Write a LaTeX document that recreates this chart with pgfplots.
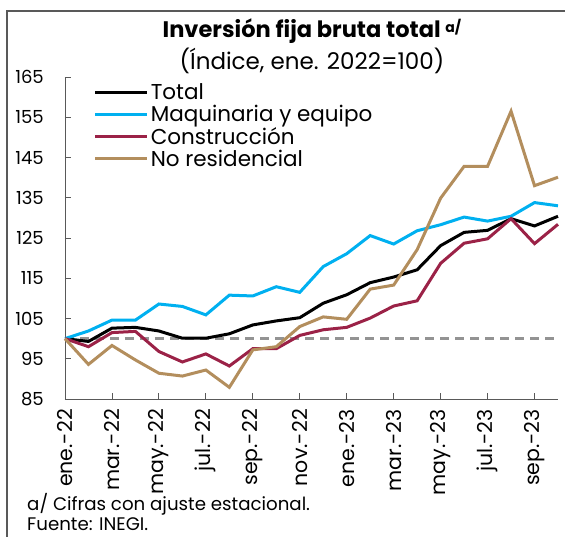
\documentclass[border=0pt]{standalone}
\usepackage{fontspec}
\setmainfont{Poppins}
\usepackage{pgfplots}
\pgfplotsset{compat=1.18}
\definecolor{cTotal}{HTML}{000000}
\definecolor{cMaq}{HTML}{00B0F0}
\definecolor{cCon}{HTML}{9B2247}
\definecolor{cNoR}{HTML}{B38E5D}
\definecolor{cAx}{HTML}{595959}
\begin{document}
\begin{tikzpicture}
\useasboundingbox (-65pt,-137pt) rectangle (500pt,399pt);
\begin{axis}[
  at={(0pt,0pt)}, anchor=origin,
  scale only axis,
  width=493pt, height=322pt,
  xmin=0, xmax=21, ymin=85, ymax=165,
  axis x line*=bottom, axis y line*=left,
  axis line style={cAx, line width=0.9pt},
  tick style={cAx, line width=0.9pt},
  tick align=inside, major tick length=6pt,
  xtick={0,2,...,20},
  xticklabels={ene.-22,mar.-22,may.-22,jul.-22,sep.-22,nov.-22,ene.-23,mar.-23,may.-23,jul.-23,sep.-23},
  xticklabel style={rotate=90, anchor=east, font=\fontsize{20.5}{22}\selectfont, inner sep=0pt, xshift=-10pt},
  ytick={85,95,...,165},
  yticklabel style={font=\fontsize{18}{20}\selectfont, inner sep=0pt, xshift=-21pt},
  /pgf/number format/assume math mode=true,
  legend style={draw=none, fill=none, at={(0.058,0.985)}, anchor=north west,
    inner sep=0pt, font=\fontsize{21.5}{22.5}\selectfont, row sep=0pt,
    /tikz/every even column/.style={column sep=6pt}},
  legend cell align=left,
  legend image code/.code={\draw[#1] (0pt,0pt) -- (52pt,0pt);},
  clip=false,
]
\addplot[forget plot, color=gray!85, dashed, line width=2.6pt, dash pattern=on 9pt off 6pt] coordinates {(0,100) (21,100)};
\addplot[cTotal, line width=3pt] coordinates {
(0,100) (1,99.3) (2,102.6) (3,102.8) (4,101.9) (5,100.1) (6,100.1) (7,101.2) (8,103.4) (9,104.4) (10,105.2)
(11,108.8) (12,110.9) (13,113.9) (14,115.3) (15,117.1) (16,123.1) (17,126.4) (18,126.9) (19,129.8) (20,128.0) (21,130.4)};
\addlegendentry{Total}
\addplot[cMaq, line width=3pt] coordinates {
(0,100) (1,101.9) (2,104.6) (3,104.6) (4,108.6) (5,108.0) (6,105.9) (7,110.8) (8,110.6) (9,112.9) (10,111.5)
(11,117.9) (12,121.1) (13,125.6) (14,123.5) (15,126.8) (16,128.3) (17,130.2) (18,129.2) (19,130.4) (20,133.8) (21,133.0)};
\addlegendentry{Maquinaria y equipo}
\addplot[cCon, line width=3pt] coordinates {
(0,100) (1,98.0) (2,101.5) (3,101.8) (4,96.8) (5,94.2) (6,96.2) (7,93.2) (8,97.5) (9,97.5) (10,100.8)
(11,102.2) (12,102.8) (13,105.1) (14,108.1) (15,109.4) (16,118.7) (17,123.7) (18,124.8) (19,129.8) (20,123.6) (21,128.4)};
\addlegendentry{Construcción}
\addplot[cNoR, line width=3pt] coordinates {
(0,100) (1,93.6) (2,98.3) (3,94.7) (4,91.4) (5,90.7) (6,92.2) (7,87.9) (8,97.2) (9,98.0) (10,103.0)
(11,105.4) (12,104.8) (13,112.3) (14,113.3) (15,122.1) (16,134.9) (17,142.8) (18,142.8) (19,156.5) (20,138.0) (21,140.1)};
\addlegendentry{No residencial}
\end{axis}
\draw[cAx, line width=1.2pt] (-58pt,-140pt) -- (-58pt,388pt) -- (502pt,388pt);
\node[font=\fontsize{22.5}{24}\selectfont\bfseries] at (247pt,368pt) {Inversión fija bruta total \raisebox{0.35ex}{\fontsize{14}{14}\selectfont a/}};
\node[font=\fontsize{23}{25}\selectfont] at (247pt,338pt) {(Índice, ene. 2022=100)};
\node[font=\fontsize{18.2}{20}\selectfont, anchor=west, inner sep=0pt] at (-38pt,-105pt) {a/ Cifras con ajuste estacional.};
\node[font=\fontsize{18.2}{20}\selectfont, anchor=west, inner sep=0pt] at (-38pt,-125pt) {Fuente: INEGI.};
\end{tikzpicture}
\end{document}
